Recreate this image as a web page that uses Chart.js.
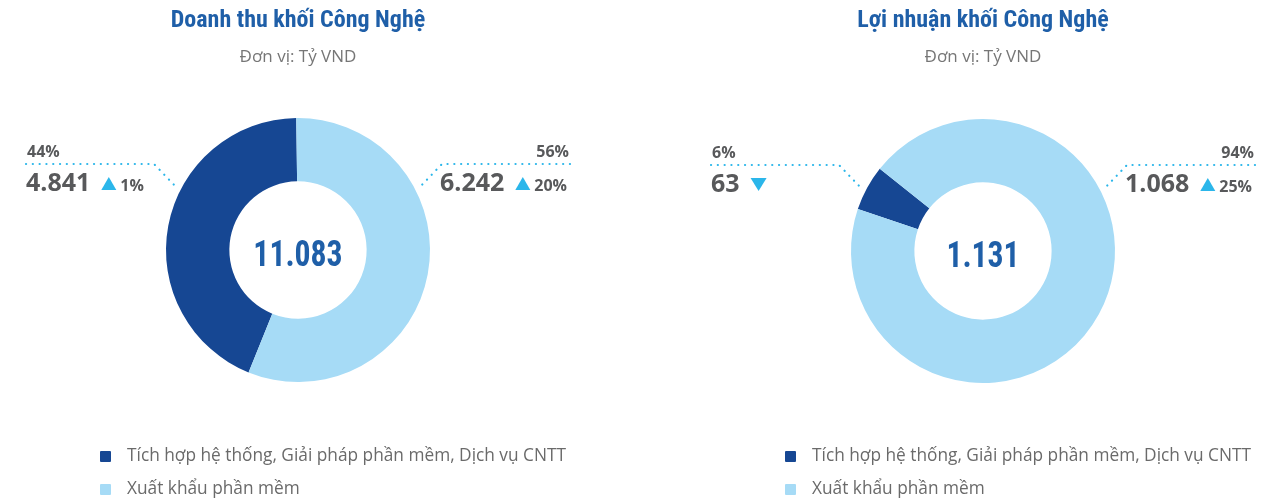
<!DOCTYPE html>
<html>
<head>
<meta charset="utf-8">
<script src="https://cdn.jsdelivr.net/npm/chart.js@4.4.0/dist/chart.umd.min.js"></script>
<style>
    body { margin: 0; width: 1278px; height: 499px; background: #fff; position: relative; overflow: hidden; font-family: "Open Sans", sans-serif; }
    .panel { position: absolute; top: 0; width: 639px; height: 499px; }
    .panel canvas { position: absolute; left: 0; top: 0; }
    .title { position: absolute; top: 5px; white-space: nowrap; transform: translateX(-50%); color: #1f5fa8;
             font: bold 24px "Liberation Sans Narrow", "Roboto Condensed", Roboto, sans-serif; }
    .sub { position: absolute; top: 44px; white-space: nowrap; transform: translateX(-50%); color: #767676; font-size: 17px; }
    .legend { position: absolute; top: 441px; }
    .legend div { height: 33px; line-height: 27px; font-size: 17.3px; color: #6a6a6a; white-space: nowrap; }
    .legend span { display: inline-block; width: 11px; height: 11px; margin-right: 16px; vertical-align: -1px; border-radius: 1px; }
</style>
</head>
<body>
<div class="panel" id="p1" style="left:0">
    <canvas id="revenueChart" width="639" height="499"></canvas>
    <div class="title" style="left:298px">Doanh thu khối Công Nghệ</div>
    <div class="sub" style="left:298px">Đơn vị: Tỷ VND</div>
    <div class="legend" id="legend1" style="left:100px"></div>
</div>
<div class="panel" id="p2" style="left:639px">
    <canvas id="profitChart" width="639" height="499"></canvas>
    <div class="title" style="left:344px">Lợi nhuận khối Công Nghệ</div>
    <div class="sub" style="left:344px">Đơn vị: Tỷ VND</div>
    <div class="legend" id="legend2" style="left:146px"></div>
</div>
<script>
// Chart data
const segmentLabels = ['Tích hợp hệ thống, Giải pháp phần mềm, Dịch vụ CNTT', 'Xuất khẩu phần mềm'];
const revenueValues = [4841, 6242];
const revenueTrend = ['up', 'up'];
const revenueGrowth = ['1%', '20%'];
const profitValues = [63, 1068];
const profitTrend = ['down', 'up'];
const profitGrowth = ['', '25%'];

const colors = ['#164793', '#a6dbf6'];
const accent = '#2bb6ea';
const textGray = '#58595b';

function fmt(n) {
    return n.toLocaleString('de-DE');
}

// Draws center total and the two dotted callouts
const calloutPlugin = {
    id: 'callouts',
    afterDraw(chart, args, opts) {
        const ctx = chart.ctx;
        const arc = chart.getDatasetMeta(0).data[0];
        const cx = arc.x, cy = arc.y;
        const values = chart.data.datasets[0].data;
        const total = values.reduce((a, b) => a + b, 0);

        ctx.save();
        // center total, slightly condensed
        ctx.save();
        ctx.translate(cx, cy + 16);
        ctx.scale(0.88, 1);
        ctx.fillStyle = '#1f5fa8';
        ctx.font = 'bold 36px "Liberation Sans Narrow", "Roboto Condensed", Roboto, sans-serif';
        ctx.textAlign = 'center';
        ctx.textBaseline = 'alphabetic';
        ctx.fillText(fmt(total), 0, 0);
        ctx.restore();

        const lineY = cy - 86;
        [0, 1].forEach(i => {
            const side = i === 0 ? -1 : 1;
            // dotted leader
            ctx.strokeStyle = accent;
            ctx.lineWidth = 2.2;
            ctx.lineCap = 'round';
            ctx.setLineDash([0.1, 6.7]);
            ctx.beginPath();
            ctx.moveTo(cx + side * 272, lineY);
            ctx.lineTo(cx + side * 144, lineY);
            ctx.lineTo(cx + side * 120, cy - 61);
            ctx.stroke();
            ctx.setLineDash([]);

            const pct = Math.round(values[i] / total * 100) + '%';
            ctx.fillStyle = textGray;
            ctx.font = 'bold 16px "Open Sans", sans-serif';
            ctx.textAlign = side < 0 ? 'left' : 'right';
            ctx.fillText(pct, cx + side * 271, cy - 93);

            // value + trend
            ctx.textAlign = 'left';
            ctx.font = 'bold 25px "Open Sans", sans-serif';
            let x = side < 0 ? cx - 272 : cx + 142;
            const vy = cy - 59;
            const valText = fmt(values[i]);
            ctx.fillText(valText, x, vy);
            x += ctx.measureText(valText).width + 11;
            ctx.fillStyle = accent;
            ctx.beginPath();
            if (opts.trend[i] === 'up') {
                ctx.moveTo(x, vy - 1);
                ctx.lineTo(x + 15, vy - 1);
                ctx.lineTo(x + 7.5, vy - 14);
            } else {
                ctx.moveTo(x, vy - 14);
                ctx.lineTo(x + 16, vy - 14);
                ctx.lineTo(x + 8, vy - 1);
            }
            ctx.closePath();
            ctx.fill();
            if (opts.growth[i]) {
                ctx.fillStyle = textGray;
                ctx.font = 'bold 16px "Open Sans", sans-serif';
                ctx.fillText(opts.growth[i], x + 19, vy);
            }
        });
        ctx.restore();
    }
};

function createDonut(canvasId, values, trend, growth, rotation, padding) {
    const ctx = document.getElementById(canvasId).getContext('2d');
    return new Chart(ctx, {
        type: 'doughnut',
        data: {
            labels: segmentLabels,
            datasets: [{
                data: values,
                backgroundColor: colors,
                borderWidth: 0,
                hoverOffset: 0,
                offset: 0
            }]
        },
        options: {
            responsive: false,
            animation: false,
            events: [],
            cutout: '52%',
            rotation: rotation,
            layout: { padding: padding },
            plugins: {
                legend: { display: false },
                tooltip: { enabled: false },
                callouts: { trend: trend, growth: growth }
            }
        },
        plugins: [calloutPlugin]
    });
}

function buildLegend(elementId) {
    const el = document.getElementById(elementId);
    segmentLabels.forEach((label, i) => {
        const row = document.createElement('div');
        row.innerHTML = `<span style="background:${colors[i]}"></span>${label}`;
        el.appendChild(row);
    });
}

createDonut('revenueChart', revenueValues, revenueTrend, revenueGrowth, -158,
    { left: 166, right: 209, top: 118, bottom: 117 });
createDonut('profitChart', profitValues, profitTrend, profitGrowth, -71.5,
    { left: 212, right: 163, top: 119, bottom: 116 });
buildLegend('legend1');
buildLegend('legend2');
</script>
</body>
</html>
